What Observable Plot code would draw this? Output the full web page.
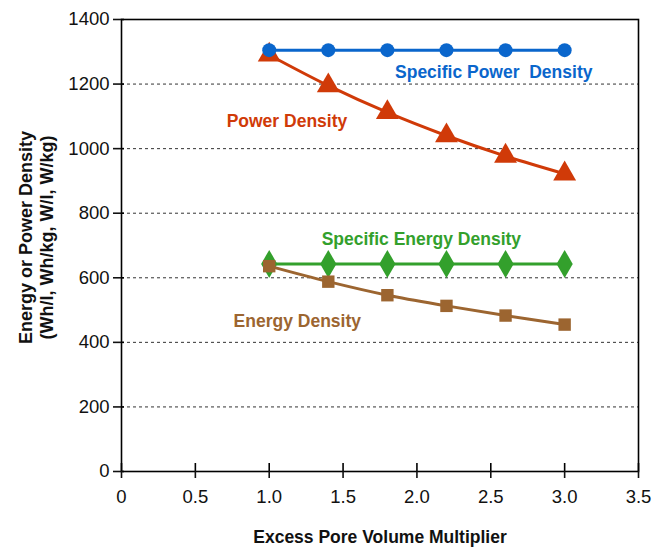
<!DOCTYPE html>
<html>
<head>
<meta charset="utf-8">
<script src="https://cdn.jsdelivr.net/npm/d3@7"></script>
<script src="https://cdn.jsdelivr.net/npm/@observablehq/plot@0.6"></script>
<style>
  body { margin: 0; background: #fff; }
  svg { font-family: "Liberation Sans", Arial, sans-serif; }
  g[aria-label="x-axis tick label"], g[aria-label="y-axis tick label"] { font-size: 18.5px; }
  g[aria-label="x-axis label"] { font-size: 17.5px; font-weight: bold; }
</style>
</head>
<body>
<div id="chart"></div>
<script>
const multiplier = [1.0, 1.4, 1.8, 2.2, 2.6, 3.0];
const specificPowerDensity = [1305, 1305, 1305, 1305, 1305, 1305];
const powerDensity = [1290, 1195, 1112, 1040, 977, 922];
const specificEnergyDensity = [643, 643, 643, 643, 643, 643];
const energyDensity = [636, 588, 546, 513, 483, 455];
const seriesNames = ["Specific Power  Density", "Power Density", "Specific Energy Density", "Energy Density"];
const seriesColors = ["#0a66cc", "#d03a08", "#33a02c", "#9c6530"];
const seriesSymbols = ["circle", "triangle", "diamond", "square"];
const drawOrder = [1, 0, 2, 3];
const labelX = [2.52, 1.12, 2.03, 1.19];
const labelY = [1235, 1083, 720, 466];
const yTicks = [0, 200, 400, 600, 800, 1000, 1200, 1400];
const gridValues = [200, 400, 600, 800, 1000, 1200];
const xTicks = [0, 0.5, 1.0, 1.5, 2.0, 2.5, 3.0, 3.5];

const allValues = [specificPowerDensity, powerDensity, specificEnergyDensity, energyDensity];
const rows = [];
allValues.forEach((vals, s) => vals.forEach((v, i) => rows.push({series: seriesNames[s], x: multiplier[i], y: v, s})));
const labels = seriesNames.map((n, s) => ({name: n, x: labelX[s], y: labelY[s], s}));

const marks = [
  Plot.ruleY(gridValues, {stroke: "#333", strokeWidth: 1, strokeDasharray: "3,3"}),
  Plot.frame({stroke: "#000", strokeWidth: 1.6}),
  Plot.axisY({ticks: yTicks, tickSize: 8, tickPadding: 4, tickFormat: d => String(d), label: null, color: "#111", strokeWidth: 1.6}),
  Plot.axisY({ticks: yTicks, tickSize: -3, tickFormat: () => "", label: null, strokeWidth: 1.6}),
  Plot.axisX({ticks: xTicks, tickSize: 7, tickPadding: 11, tickFormat: d => d === 0 ? "0" : d.toFixed(1), color: "#111", strokeWidth: 1.6,
    label: "Excess Pore Volume Multiplier", labelAnchor: "center", labelArrow: "none", labelOffset: 71}),
  Plot.axisX({ticks: xTicks, tickSize: -8, tickFormat: () => "", label: null, strokeWidth: 1.6}),
  Plot.text(["Energy or Power Density\n(Wh/l, Wh/kg, W/l, W/kg)"], {frameAnchor: "left", textAnchor: "middle", rotate: -90, dx: -86, dy: -8, fontSize: 18, fontWeight: "bold", fill: "#111", lineHeight: 1.2}),
];
drawOrder.forEach(s => {
  const d = rows.filter(r => r.s === s);
  marks.push(Plot.line(d, {x: "x", y: "y", stroke: seriesColors[s], strokeWidth: 3, curve: "catmull-rom"}));
  marks.push(Plot.dot(d, {x: "x", y: "y", fill: seriesColors[s], stroke: "none", symbol: seriesSymbols[s], r: s === 0 ? 7 : (s === 3 ? 7 : 8.5)}));
});
marks.push(Plot.text(labels, {x: "x", y: "y", text: "name", fill: d => seriesColors[d.s], fontSize: 17.5, fontWeight: "bold"}));

const chart = Plot.plot({
  width: 654,
  height: 547,
  marginLeft: 121,
  marginRight: 16,
  marginTop: 19,
  marginBottom: 76,
  x: {domain: [0, 3.5]},
  y: {domain: [0, 1400]},
  color: {type: "identity"},
  style: {fontFamily: "'Liberation Sans', Arial, sans-serif", background: "#fff"},
  marks
});
document.getElementById("chart").appendChild(chart);
</script>
</body>
</html>
